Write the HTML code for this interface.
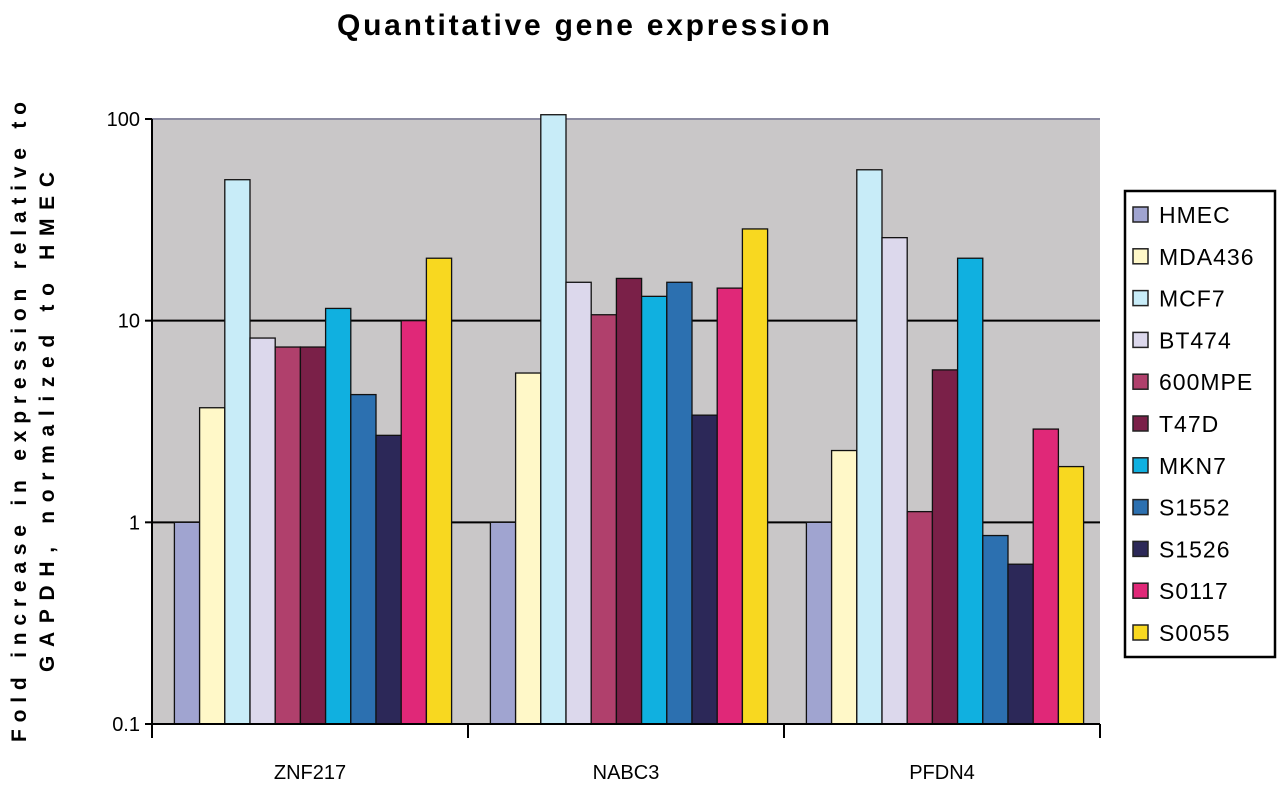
<!DOCTYPE html>
<html><head><meta charset="utf-8"><style>
body{margin:0;background:#fff;width:1280px;height:784px;overflow:hidden;font-family:"Liberation Sans",sans-serif}
</style></head><body>
<svg width="1280" height="784" xmlns="http://www.w3.org/2000/svg">
<text x="584" y="35" text-anchor="middle" font-size="30" font-weight="bold" letter-spacing="1" textLength="494">Quantitative gene expression</text>
<rect x="152" y="119" width="948" height="605" fill="#c9c7c8"/>
<g id="grid"></g>
<g id="bars"></g>
<g id="axes"></g>
<text transform="translate(30,422) rotate(-90)" text-anchor="middle" font-size="21" font-weight="bold"><tspan x="0" dy="-4" textLength="640">Fold increase in expression relative to</tspan><tspan x="0" dy="28" textLength="500">GAPDH, normalized to HMEC</tspan></text>
<rect x="1125" y="191" width="150" height="466" fill="#fff" stroke="#000" stroke-width="2.5"/>
<g id="legend"></g>
</svg>
<script>
const categories=["ZNF217","NABC3","PFDN4"];
const series=["HMEC","MDA436","MCF7","BT474","600MPE","T47D","MKN7","S1552","S1526","S0117","S0055"];
const colors=["#a0a4d0","#fff8c8","#c8ecf8","#dcd8ec","#b0406c","#7a2048","#10b0e0","#2c70b0","#2c2858","#e02878","#f8d820"];
const znf217=[1,3.7,50,8.2,7.4,7.4,11.5,4.3,2.7,10,20.4];
const nabc3=[1,5.5,105,15.5,10.7,16.2,13.2,15.5,3.4,14.5,28.5];
const pfdn4=[1,2.27,56,25.8,1.13,5.7,20.4,0.86,0.62,2.9,1.89];
const values=[znf217,nabc3,pfdn4];
const yTicks=[0.1,1,10,100];
const yLabels=["0.1","1","10","100"];
const NS="http://www.w3.org/2000/svg";
const X0=152,X1=1100,Y0=724,YT=119;
function y(v){return Y0-(Math.log10(v)+1)/3*(Y0-YT);}
const gw=(X1-X0)/categories.length, bw=25.2, pad=(gw-bw*series.length)/2+3;
function mk(t,a,p){const e=document.createElementNS(NS,t);for(const k in a)e.setAttribute(k,a[k]);p.appendChild(e);return e;}
const grid=document.getElementById('grid'),bars=document.getElementById('bars'),axes=document.getElementById('axes'),leg=document.getElementById('legend');
yTicks.forEach((t,i)=>{
 if(i>0){const l=mk('line',{x1:X0,x2:X1,y1:y(t),y2:y(t),stroke:i==3?'#8a8aa0':'#000','stroke-width':2},grid);
 
 }
 const tx=mk('text',{x:140,y:y(t)+7,'text-anchor':'end','font-size':20},axes);tx.textContent=yLabels[i];
 
 
 mk('line',{x1:145,x2:X0,y1:y(t),y2:y(t),stroke:'#000','stroke-width':2},axes);
});
categories.forEach((c,ci)=>{
 values[ci].forEach((v,si)=>{
  const x=X0+ci*gw+pad+si*bw;
  const r=mk('rect',{x:x,y:y(v),width:bw,height:Y0-y(v),fill:colors[si],stroke:'#111','stroke-width':1.3},bars);
  
  
 });
 const t=mk('text',{x:X0+(ci+0.5)*gw,y:779,'text-anchor':'middle','font-size':20},axes);t.textContent=c;
 
 
});
for(let i=0;i<=categories.length;i++){mk('line',{x1:X0+i*gw,x2:X0+i*gw,y1:Y0,y2:Y0+14,stroke:'#000','stroke-width':2},axes);}
mk('line',{x1:X0,x2:X0,y1:YT,y2:Y0,stroke:'#000','stroke-width':2},axes);
mk('line',{x1:X0,x2:X1,y1:Y0,y2:Y0,stroke:'#000','stroke-width':2},axes);
series.forEach((s,i)=>{
 const cy=215+i*41.8;
 const g=mk('g',{},leg);
 
 
 mk('rect',{x:1133,y:cy-8,width:15,height:15,fill:colors[i],stroke:'#222','stroke-width':1.5},g);
 const t=mk('text',{x:1159,y:cy+8,'font-size':23,'letter-spacing':1},g);t.textContent=s;
});
</script>
</body></html>
